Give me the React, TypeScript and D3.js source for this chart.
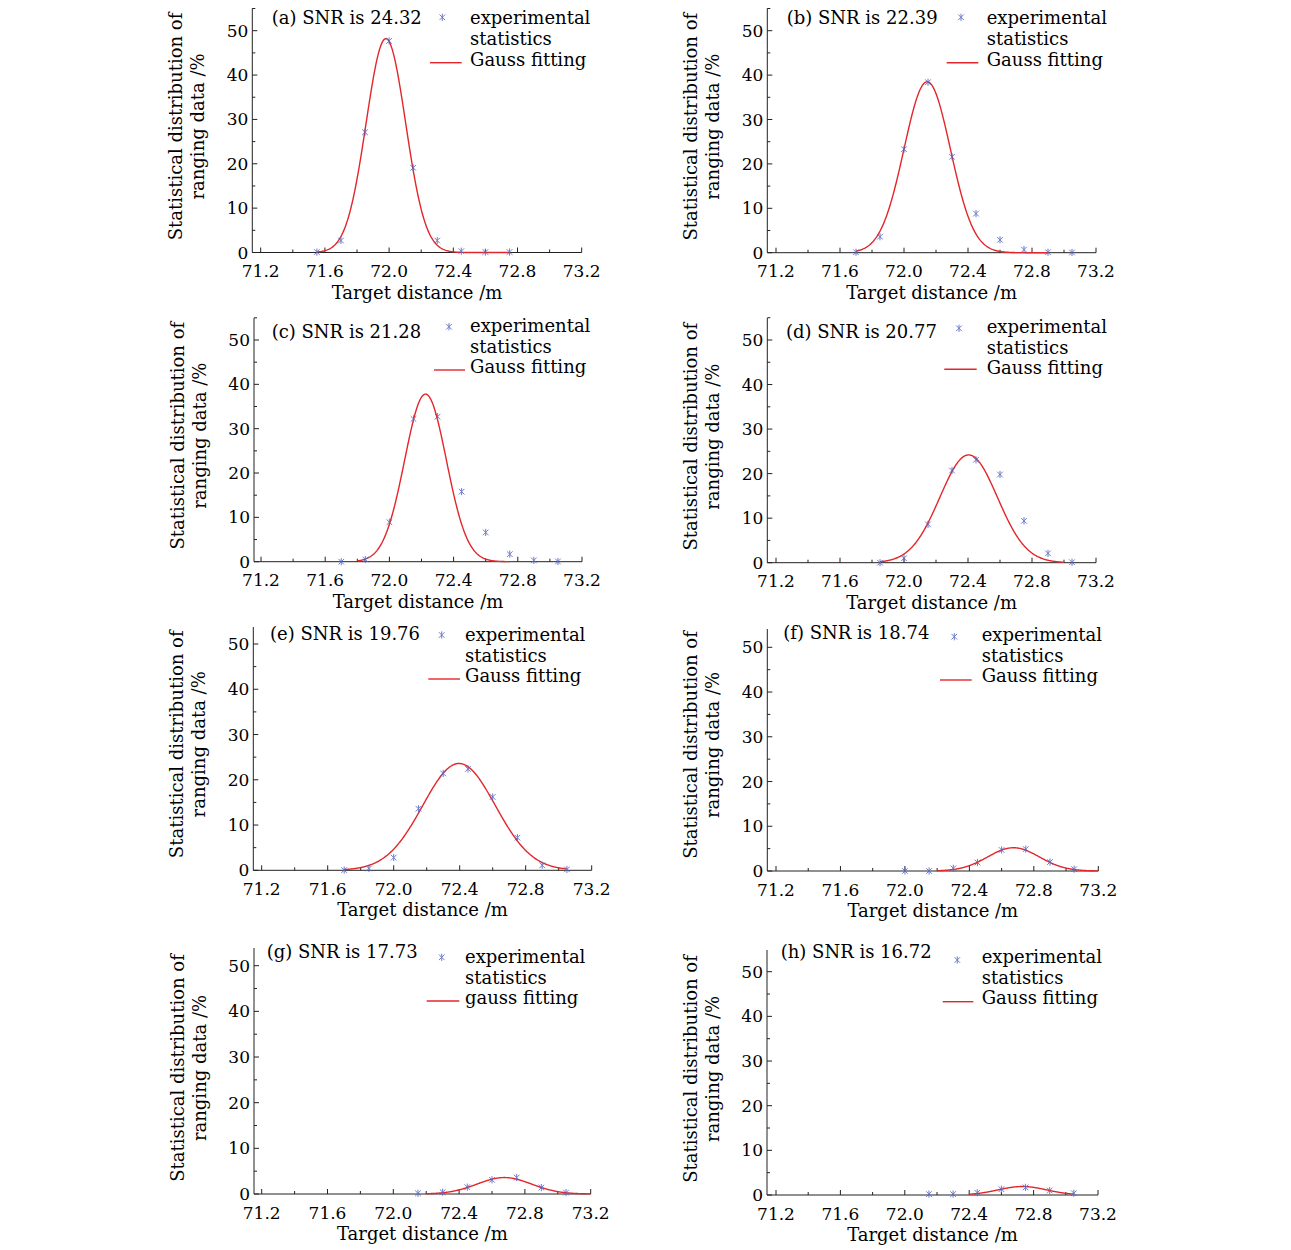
import React from "react";
import * as d3 from "d3";

// ---------- data ----------
const panelLetters = ["(a)", "(b)", "(c)", "(d)", "(e)", "(f)", "(g)", "(h)"];
const snrValues = ["24.32", "22.39", "21.28", "20.77", "19.76", "18.74", "17.73", "16.72"];
const fitNames = ["Gauss fitting", "Gauss fitting", "Gauss fitting", "Gauss fitting", "Gauss fitting", "Gauss fitting", "gauss fitting", "Gauss fitting"];

const distA = [71.55, 71.7, 71.85, 72.0, 72.15, 72.3, 72.45, 72.6, 72.75];
const pctA = [0.1, 2.7, 27.1, 47.7, 19.1, 2.7, 0.3, 0.1, 0.1];
const distB = [71.7, 71.85, 72.0, 72.15, 72.3, 72.45, 72.6, 72.75, 72.9, 73.05];
const pctB = [0.1, 3.6, 23.3, 38.4, 21.6, 8.8, 2.9, 0.7, 0.1, 0.05];
const distC = [71.7, 71.85, 72.0, 72.15, 72.3, 72.45, 72.6, 72.75, 72.9, 73.05];
const pctC = [0.0, 0.5, 8.9, 32.2, 32.7, 15.8, 6.6, 1.7, 0.3, 0.05];
const distD = [71.85, 72.0, 72.15, 72.3, 72.45, 72.6, 72.75, 72.9, 73.05];
const pctD = [0.0, 1.0, 8.6, 20.7, 23.1, 19.8, 9.4, 2.1, 0.1];
const distE = [71.7, 71.85, 72.0, 72.15, 72.3, 72.45, 72.6, 72.75, 72.9, 73.05];
const pctE = [0.05, 0.4, 2.8, 13.6, 21.4, 22.4, 16.2, 7.2, 1.1, 0.2];
const distF = [72.0, 72.15, 72.3, 72.45, 72.6, 72.75, 72.9, 73.05];
const pctF = [0.0, 0.0, 0.6, 1.9, 4.7, 4.9, 2.0, 0.4];
const distG = [72.15, 72.3, 72.45, 72.6, 72.75, 72.9, 73.05];
const pctG = [0.15, 0.4, 1.5, 3.1, 3.6, 1.4, 0.3];
const distH = [72.15, 72.3, 72.45, 72.6, 72.75, 72.9, 73.05];
const pctH = [0.2, 0.2, 0.5, 1.3, 1.7, 1.0, 0.4];

const distances = [distA, distB, distC, distD, distE, distF, distG, distH];
const percents = [pctA, pctB, pctC, pctD, pctE, pctF, pctG, pctH];

// Gaussian fit parameters
const fitPeak = [48.2, 38.5, 37.8, 24.2, 23.6, 5.2, 3.6, 1.9];
const fitCenter = [71.98, 72.145, 72.225, 72.404, 72.396, 72.674, 72.675, 72.73];
const fitSigma = [0.123, 0.145, 0.13, 0.18, 0.22, 0.16, 0.165, 0.15];
const fitFrom = [71.55, 71.7, 71.8, 71.85, 71.7, 72.2, 72.2, 72.4];
const fitTo = [72.75, 72.9, 72.75, 73.0, 73.05, 73.2, 73.2, 73.05];

const xTickValues = [71.2, 71.6, 72.0, 72.4, 72.8, 73.2];
const xMinorValues = [71.4, 71.8, 72.2, 72.6, 73.0];
const yTickValues = [0, 10, 20, 30, 40, 50];
const yMinorValues = [5, 15, 25, 35, 45, 55];

const xTitle = "Target distance /m";
const yTitle1 = "Statistical distribution of";
const yTitle2 = "ranging data /%";
const legendExp1 = "experimental";
const legendExp2 = "statistics";

// ---------- layout (pixel positions) ----------
const layouts = [
  { ax: 252.3, x712: 260.7, x732: 581.7, y0: 252.5, y50: 30.7, top: 8.3, tX: 271.7, tY: 24, mX: 442.3, mY: 17.3, lX: 470, lY: 24, ln1: 430, ln2: 461.7, lnY: 62.7 },
  { ax: 767.3, x712: 776, x732: 1096, y0: 252.7, y50: 30.7, top: 8.3, tX: 786.7, tY: 24, mX: 961, mY: 17.3, lX: 986.7, lY: 24, ln1: 946.7, ln2: 978.3, lnY: 62.7 },
  { ax: 254, x712: 261, x732: 582, y0: 561.7, y50: 340, top: 318, tX: 271.7, tY: 338.3, mX: 449, mY: 326.7, lX: 470, lY: 331.7, ln1: 434, ln2: 465, lnY: 370 },
  { ax: 767.3, x712: 776, x732: 1096, y0: 562.7, y50: 340, top: 318, tX: 786, tY: 338.3, mX: 959, mY: 328.3, lX: 986.7, lY: 332.7, ln1: 944.3, ln2: 976.7, lnY: 369.3 },
  { ax: 253.3, x712: 261.7, x732: 591.7, y0: 870.3, y50: 644, top: 627, tX: 270, tY: 640, mX: 441.7, mY: 635, lX: 465, lY: 640.7, ln1: 428.3, ln2: 460, lnY: 679 },
  { ax: 767.3, x712: 776, x732: 1098.3, y0: 871, y50: 647.3, top: 629, tX: 783.3, tY: 639.3, mX: 954.3, mY: 636.7, lX: 981.7, lY: 640.7, ln1: 940, ln2: 971.7, lnY: 680 },
  { ax: 254, x712: 261.7, x732: 590.7, y0: 1194, y50: 965.7, top: 948, tX: 266.7, tY: 958.3, mX: 441.7, mY: 957.3, lX: 465, lY: 962.7, ln1: 426.7, ln2: 459.3, lnY: 1001 },
  { ax: 767, x712: 776, x732: 1098, y0: 1195, y50: 971.7, top: 950, tX: 780.7, tY: 958.3, mX: 957.3, mY: 960, lX: 981.7, lY: 962.7, ln1: 942.7, ln2: 973.3, lnY: 1001.7 },
];

const FONT = "'DejaVu Serif', 'Liberation Serif', serif";
const FS = 18;
const FS_TICK = 17;
const MARK = "#5566c4";
const RED = "#e3262b";

function Star({ x, y }: { x: number; y: number }) {
  const r = 3.6;
  const d = r * 0.78;
  return (
    <g stroke={MARK} strokeWidth={1} opacity={0.85}>
      <line x1={x} y1={y - r} x2={x} y2={y + r} />
      <line x1={x - d} y1={y - d} x2={x + d} y2={y + d} />
      <line x1={x - d} y1={y + d} x2={x + d} y2={y - d} />
    </g>
  );
}

function Panel({ i }: { i: number }) {
  const L = layouts[i];
  const x = d3.scaleLinear().domain([71.2, 73.2]).range([L.x712, L.x732]);
  const y = d3.scaleLinear().domain([0, 50]).range([L.y0, L.y50]);
  const xs = distances[i];
  const ys = percents[i];
  const A = fitPeak[i], mu = fitCenter[i], s = fitSigma[i];
  const curvePts = d3.range(0, 301).map((k) => {
    const xv = fitFrom[i] + ((fitTo[i] - fitFrom[i]) * k) / 300;
    return [xv, A * Math.exp(-((xv - mu) ** 2) / (2 * s * s))] as [number, number];
  });
  const line = d3
    .line<[number, number]>()
    .x((d) => x(d[0]))
    .y((d) => y(d[1]))
    .curve(d3.curveLinear);
  const majorLen = 5;
  const minorLen = 3;
  const yTitleCenter = L.y0 - 126;
  return (
    <g fontFamily={FONT} fontSize={FS} fill="#000">
      {/* axes */}
      <line x1={L.ax} y1={L.y0} x2={L.x732} y2={L.y0} stroke="#222" strokeWidth={1} />
      <line x1={L.ax} y1={L.y0} x2={L.ax} y2={L.top} stroke="#222" strokeWidth={1} />
      {xTickValues.map((t) => (
        <g key={"xt" + t}>
          <line x1={x(t)} x2={x(t)} y1={L.y0} y2={L.y0 - majorLen} stroke="#222" strokeWidth={1} />
          <text x={x(t)} y={L.y0 + 24.5} textAnchor="middle" fontSize={FS_TICK}>{t.toFixed(1)}</text>
        </g>
      ))}
      {xMinorValues.map((t) => (
        <line key={"xm" + t} x1={x(t)} x2={x(t)} y1={L.y0} y2={L.y0 - minorLen} stroke="#222" strokeWidth={1} />
      ))}
      {yTickValues.map((t) => (
        <g key={"yt" + t}>
          <line x1={L.ax} x2={L.ax + majorLen} y1={y(t)} y2={y(t)} stroke="#222" strokeWidth={1} />
          <text x={L.ax - 4} y={y(t) + 6} textAnchor="end" fontSize={FS_TICK}>{t}</text>
        </g>
      ))}
      {yMinorValues.filter((t) => y(t) >= L.top - 0.5).map((t) => (
        <line key={"ym" + t} x1={L.ax} x2={L.ax + minorLen} y1={y(t)} y2={y(t)} stroke="#222" strokeWidth={1} />
      ))}
      {/* axis titles */}
      <text x={(L.ax + L.x732) / 2} y={L.y0 + 46} textAnchor="middle">{xTitle}</text>
      <text transform={`translate(${L.ax - 70},${yTitleCenter}) rotate(-90)`} textAnchor="middle">{yTitle1}</text>
      <text transform={`translate(${L.ax - 48},${yTitleCenter}) rotate(-90)`} textAnchor="middle">{yTitle2}</text>
      {/* fit curve */}
      <path d={line(curvePts) || ""} fill="none" stroke={RED} strokeWidth={1.4} />
      {/* markers */}
      {xs.map((xv, k) => (
        <Star key={"m" + k} x={x(xv)} y={y(ys[k])} />
      ))}
      {/* title */}
      <text x={L.tX} y={L.tY}>{`${panelLetters[i]} SNR is ${snrValues[i]}`}</text>
      {/* legend */}
      <Star x={L.mX} y={L.mY} />
      <text x={L.lX} y={L.lY}>{legendExp1}</text>
      <text x={L.lX} y={L.lY + 21}>{legendExp2}</text>
      <line x1={L.ln1} x2={L.ln2} y1={L.lnY} y2={L.lnY} stroke={RED} strokeWidth={1.4} />
      <text x={L.lX} y={L.lY + 41.7}>{fitNames[i]}</text>
    </g>
  );
}

export default function App() {
  return (
    <svg
      width={1291}
      height={1250}
      style={{ position: "absolute", left: 0, top: 0, background: "#fff" }}
    >
      <rect width={1291} height={1250} fill="#fff" />
      {layouts.map((_, i) => (
        <Panel key={i} i={i} />
      ))}
    </svg>
  );
}
